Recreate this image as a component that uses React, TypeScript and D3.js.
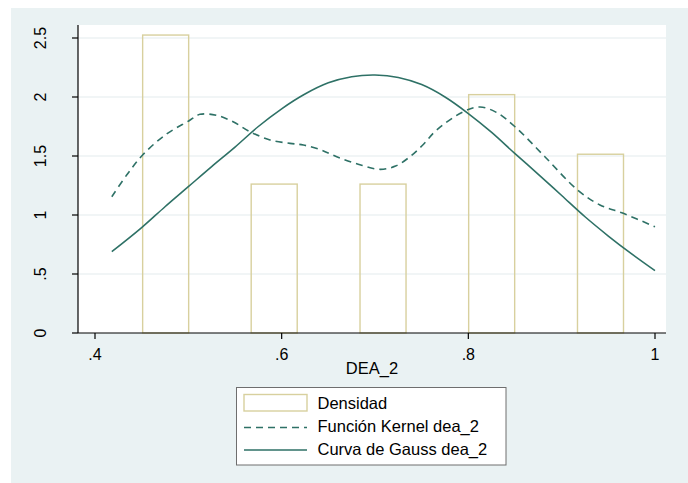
import React from "react";
import * as d3 from "d3";

// ---- data ----
const binCenters = [0.4757, 0.592, 0.7086, 0.825, 0.9416];
const densidad = [2.525, 1.262, 1.262, 2.02, 1.515];
const kernelX = [0.418, 0.435, 0.451, 0.4755, 0.5004, 0.5125, 0.53, 0.548, 0.566, 0.5875, 0.609, 0.6232, 0.641, 0.659, 0.682, 0.7054, 0.722, 0.7375, 0.752, 0.766, 0.7946, 0.8125, 0.83, 0.85, 0.882, 0.917, 0.941, 0.966, 1.0];
const kernelY = [1.155, 1.35, 1.508, 1.68, 1.797, 1.853, 1.845, 1.79, 1.706, 1.636, 1.607, 1.593, 1.555, 1.494, 1.43, 1.387, 1.415, 1.494, 1.6, 1.72, 1.875, 1.915, 1.87, 1.748, 1.494, 1.212, 1.085, 1.014, 0.9];
const gaussX = [0.418, 0.45, 0.475, 0.5, 0.525, 0.55, 0.575, 0.6, 0.625, 0.65, 0.675, 0.7, 0.725, 0.75, 0.775, 0.8, 0.825, 0.85, 0.875, 0.9, 0.925, 0.95, 0.975, 1.0];
const gaussY = [0.689, 0.893, 1.07, 1.24, 1.41, 1.575, 1.75, 1.9, 2.025, 2.12, 2.172, 2.186, 2.166, 2.105, 2.0, 1.86, 1.7, 1.52, 1.345, 1.165, 0.985, 0.822, 0.67, 0.528];
const xTicks = [0.4, 0.6, 0.8, 1.0];
const xTickLabels = [".4", ".6", ".8", "1"];
const yTicks = [0, 0.5, 1, 1.5, 2, 2.5];
const yTickLabels = ["0", ".5", "1", "1.5", "2", "2.5"];
const legendLabels = ["Densidad", "Función Kernel dea_2", "Curva de Gauss dea_2"];
const xTitle = "DEA_2";
const barWidth = 0.0493;

const W = 688;
const H = 483;
const plot = { left: 78, right: 666, top: 25, bottom: 333 };
const lineColor = "#2e7166";
const barColor = "#d8d09e";
const bg = "#eaf2f3";
const font = "Liberation Sans, Arial, sans-serif";

export default function App() {
  const x = d3.scaleLinear().domain([0.4, 1.0]).range([95, 655]);
  const y = d3.scaleLinear().domain([0, 2.5]).range([plot.bottom, 38]);
  const line = d3
    .line<[number, number]>()
    .x((d) => x(d[0]))
    .y((d) => y(d[1]))
    .curve(d3.curveCatmullRom.alpha(0.5));
  const kernel = kernelX.map((v, i) => [v, kernelY[i]] as [number, number]);
  const gauss = gaussX.map((v, i) => [v, gaussY[i]] as [number, number]);

  return (
    <svg
      width={W}
      height={H}
      style={{ position: "absolute", left: 0, top: 0 }}
      fontFamily={font}
    >
      <rect x={0} y={0} width={W} height={H} fill="#ffffff" />
      <rect x={11} y={8} width={W - 11} height={H - 8} fill={bg} />
      <rect
        x={plot.left}
        y={plot.top}
        width={plot.right - plot.left}
        height={plot.bottom - plot.top}
        fill="#ffffff"
      />
      {/* grid */}
      {yTicks.slice(1).map((t) => (
        <line
          key={"g" + t}
          x1={plot.left}
          x2={plot.right}
          y1={y(t)}
          y2={y(t)}
          stroke="#e4eced"
          strokeWidth={1.2}
        />
      ))}
      {/* bars */}
      {binCenters.map((c, i) => (
        <rect
          key={"b" + i}
          x={x(c - barWidth / 2)}
          y={y(densidad[i])}
          width={x(c + barWidth / 2) - x(c - barWidth / 2)}
          height={y(0) - y(densidad[i])}
          fill="none"
          stroke={barColor}
          strokeWidth={1.4}
        />
      ))}
      {/* curves */}
      <path
        d={line(kernel) || ""}
        fill="none"
        stroke={lineColor}
        strokeWidth={1.6}
        strokeDasharray="7 5"
      />
      <path d={line(gauss) || ""} fill="none" stroke={lineColor} strokeWidth={1.6} />
      {/* axes */}
      <line x1={plot.left} x2={plot.left} y1={plot.top} y2={plot.bottom} stroke="#000" strokeWidth={1.2} />
      <line x1={plot.left} x2={plot.right} y1={plot.bottom} y2={plot.bottom} stroke="#000" strokeWidth={1.2} />
      {yTicks.map((t, i) => (
        <g key={"yt" + t}>
          <line x1={plot.left - 6} x2={plot.left} y1={y(t)} y2={y(t)} stroke="#000" strokeWidth={1.2} />
          <text
            transform={`translate(${46},${y(t)}) rotate(-90)`}
            textAnchor="middle"
            fontSize={16}
            fill="#000"
          >
            {yTickLabels[i]}
          </text>
        </g>
      ))}
      {xTicks.map((t, i) => (
        <g key={"xt" + t}>
          <line x1={x(t)} x2={x(t)} y1={plot.bottom} y2={plot.bottom + 6} stroke="#000" strokeWidth={1.2} />
          <text x={x(t)} y={360} textAnchor="middle" fontSize={16} fill="#000">
            {xTickLabels[i]}
          </text>
        </g>
      ))}
      <text x={(plot.left + plot.right) / 2} y={374} textAnchor="middle" fontSize={16.5} fill="#000">
        {xTitle}
      </text>
      {/* legend */}
      <rect x={236.5} y={387.5} width={269.5} height={77.5} fill="#ffffff" stroke="#6e6e6e" strokeWidth={1} />
      <rect x={244} y={394.5} width={63} height={16.5} fill="none" stroke={barColor} strokeWidth={1.4} />
      <line x1={244} x2={307} y1={427.5} y2={427.5} stroke={lineColor} strokeWidth={1.6} strokeDasharray="7 5" />
      <line x1={244} x2={307} y1={450} y2={450} stroke={lineColor} strokeWidth={1.6} />
      {legendLabels.map((l, i) => (
        <text key={l} x={317.5} y={409 + i * 23} fontSize={16.5} fill="#000">
          {l}
        </text>
      ))}
    </svg>
  );
}
